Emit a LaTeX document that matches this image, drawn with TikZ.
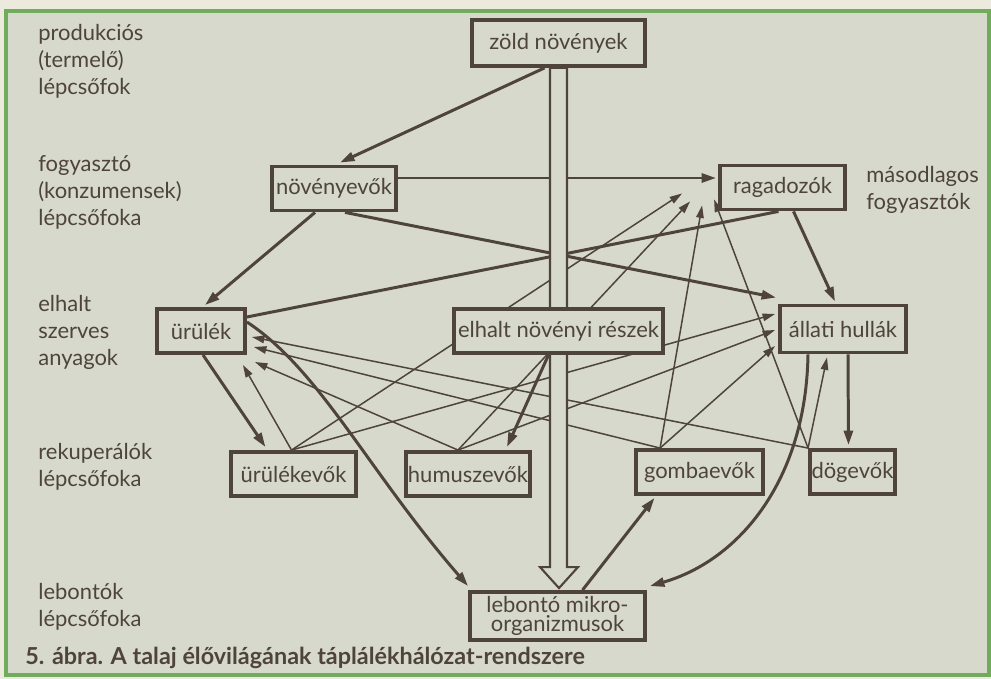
\documentclass[tikz,border=0pt]{standalone}
\usepackage{fontspec}
\setmainfont{Lato}
\usetikzlibrary{arrows.meta}
\definecolor{ink}{RGB}{78,68,60}
\definecolor{paper}{RGB}{215,217,205}
\definecolor{rim}{RGB}{236,234,220}
\definecolor{frame}{RGB}{112,172,92}
\pgfdeclarelayer{bg}
\pgfdeclarelayer{edges}
\pgfdeclarelayer{shaft}
\pgfsetlayers{bg,edges,shaft,main}
\begin{document}
\begin{tikzpicture}[x=0.02cm, y=-0.02cm,
    box/.style={draw=ink, line width=2.2pt, fill=paper, text=ink, inner sep=0pt,
      minimum height=0.88cm, font=\fontsize{12.5}{11}\selectfont},
    fed/.style={draw=ink, line width=1.7pt, -{Triangle[length=2.9mm,width=1.8mm]}},
    link/.style={draw=ink, line width=0.85pt, -{Triangle[length=2.5mm,width=1.5mm]}},
    level/.style={anchor=west, align=left, text=ink, inner sep=0pt,
      font=\fontsize{12.5}{15.4}\selectfont}]
    \useasboundingbox (0,0) rectangle (991,679);

    % Papír és zöld keret
    \begin{pgfonlayer}{bg}
        \fill[rim] (0,0) rectangle (991,679);
        \fill[paper] (6,11) rectangle (989,675);
        \draw[frame, line width=2pt] (6,11) rectangle (989,675);
    \end{pgfonlayer}

    % Táplálékhálózat tagjai
    \node[box, minimum width=3.46cm, minimum height=0.92cm] (zold) at (558.5,43) {zöld növények};
    \node[box, minimum width=2.48cm] (noveny) at (334,188.5) {növényevők};
    \node[box, minimum width=2.5cm] (ragad) at (782.5,187.5) {ragadozók};
    \node[box, minimum width=1.76cm] (urulek) at (201,331) {ürülék};
    \node[box, minimum width=4.18cm] (elhalt) at (558.5,331) {elhalt növényi részek};
    \node[box, minimum width=2.52cm, minimum height=0.94cm] (allati) at (843,329) {állati hullák};
    \node[box, minimum width=2.5cm] (urulekevo) at (293.5,474) {ürülékevők};
    \node[box, minimum width=2.48cm] (humusz) at (468,474) {humuszevők};
    \node[box, minimum width=2.54cm] (gomba) at (699.5,472) {gombaevők};
    \node[box, minimum width=1.7cm] (dog) at (852.5,472) {dögevők};
    \node[box, minimum width=3.5cm, minimum height=0.96cm, align=center] (lebonto) at (557.5,616) {lebontó mikro-\\organizmusok};

    % Szintek feliratai
    \node[level] (prod) at (38,61) {produkciós\\(termelő)\\lépcsőfok};
    \node[level] (fogy) at (38,192) {fogyasztó\\(konzumensek)\\lépcsőfoka};
    \node[level] (szerv) at (38,332) {elhalt\\szerves\\anyagok};
    \node[level] (reku) at (38,467) {rekuperálók\\lépcsőfoka};
    \node[level] (lebl) at (38,607) {lebontók\\lépcsőfoka};
    \node[level] (masod) at (866,190) {másodlagos\\fogyasztók};
    \node[anchor=west, text=ink, inner sep=0pt, font=\fontsize{13.3}{14}\selectfont\bfseries] (abra) at (25,658)
        {5. ábra. A talaj élővilágának táplálékhálózat-rendszere};

    \begin{pgfonlayer}{edges}
        % Vastag nyilak: fogyasztás és elhalás
        \draw[fed] ([shift={(-14,0)}]zold.south) -- ([shift={(6,-2)}]noveny.north);
        \draw[fed] ([shift={(0,-10.5)}]noveny.east) -- ([shift={(-2,-9.5)}]ragad.west);
        \draw[fed] ([shift={(11,0)}]noveny.south) -- ([shift={(-2,-6)}]allati.north west);
        \draw[fed] ([shift={(-19,0)}]noveny.south) -- ([shift={(4,-2)}]urulek.north);
        \draw[fed, -] ([shift={(-4,0)}]ragad.south) -- ([shift={(0,-14)}]urulek.east);
        \draw[fed] ([shift={(11,0)}]ragad.south) -- ([shift={(-8,-2)}]allati.north);
        \draw[fed] ([shift={(5,0)}]allati.south) -- ([shift={(-4,-3)}]dog.north);
        \draw[fed] ([shift={(-35,0)}]allati.south) .. controls +(-2,125) and +(90,-26) .. ([shift={(3,-4)}]lebonto.north east);
        \draw[fed] ([shift={(-10,0)}]elhalt.south) -- ([shift={(39,-3)}]humusz.north);
        \draw[fed] ([shift={(2,0)}]urulek.south) -- ([shift={(-28,-3)}]urulekevo.north);
        \draw[fed] ([shift={(0,-9)}]urulek.east) .. controls +(73,48) and +(-100,-115) .. ([shift={(0,-4)}]lebonto.north west);
        \draw[fed] ([shift={(25,0)}]lebonto.north) -- ([shift={(-45,2)}]gomba.south);

        % Vékony nyilak a rekuperálóktól
        \draw[link] ([shift={(-2,0)}]urulekevo.north) -- ([shift={(-4,10)}]urulek.south east);
        \draw[link] ([shift={(-2,0)}]urulekevo.north) -- ([shift={(-36,-18)}]ragad.south west);
        \draw[link] ([shift={(-2,0)}]urulekevo.north) -- ([shift={(-3,-15)}]allati.west);
        \draw[link] ([shift={(-10,0)}]humusz.north) -- ([shift={(8,31)}]urulek.east);
        \draw[link] ([shift={(-10,0)}]humusz.north) -- ([shift={(-28,-10)}]ragad.south west);
        \draw[link] ([shift={(-10,0)}]humusz.north) -- ([shift={(-3,1)}]allati.west);
        \draw[link] ([shift={(26,0)}]gomba.north west) -- ([shift={(7,16)}]urulek.east);
        \draw[link] ([shift={(26,0)}]gomba.north west) -- ([shift={(-16,-6)}]ragad.south west);
        \draw[link] ([shift={(26,0)}]gomba.north west) -- ([shift={(-3,17)}]allati.west);
        \draw[link] (dog.north west) -- ([shift={(5,6)}]urulek.east);
        \draw[link] (dog.north west) -- ([shift={(-4,-12)}]ragad.south west);
        \draw[link] (dog.north west) -- ([shift={(-16,3)}]allati.south);
    \end{pgfonlayer}

    % Üres nyíl a zöld növényektől a lebontókig
    \begin{pgfonlayer}{shaft}
        \draw[ink, line width=1.2pt, fill=paper, line join=miter]
            ([shift={(-8.5,0)}]zold.south) -- ([shift={(-7.5,-23)}]lebonto.north) -- ++(-10,0)
            -- ([shift={(1.5,-2)}]lebonto.north) -- ([shift={(20.5,-23)}]lebonto.north) -- ++(-11,0)
            -- ([shift={(8.5,0)}]zold.south) -- cycle;
    \end{pgfonlayer}
\end{tikzpicture}
\end{document}
